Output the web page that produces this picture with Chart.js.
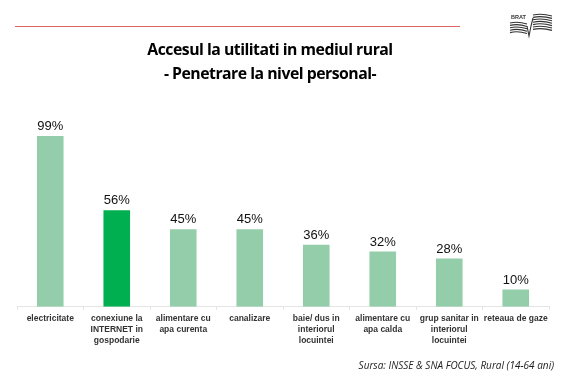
<!DOCTYPE html>
<html><head><meta charset="utf-8">
<script src="https://cdn.jsdelivr.net/npm/chart.js@4"></script>
<style>
html,body{margin:0;padding:0;background:#fff;}
#wrap{position:relative;width:570px;height:376px;overflow:hidden;}
#c{position:absolute;left:0;top:0;}
.title{position:absolute;left:0;width:540px;text-align:center;font-family:"Open Sans",sans-serif;font-weight:700;font-size:15.8px;color:#000;letter-spacing:-0.5px;}
#src{position:absolute;right:16px;top:358px;font-family:"Open Sans",sans-serif;font-style:italic;font-size:10px;color:#222;}
#line{position:absolute;left:15px;top:26px;width:445px;height:1px;background:#e06666;}
</style></head>
<body><div id="wrap">
<canvas id="c" width="570" height="376"></canvas>
<div id="line"></div>
<div class="title" style="top:38px">Accesul la utilitati in mediul rural</div>
<div class="title" style="top:62px">- Penetrare la nivel personal-</div>
<div id="src">Sursa: INSSE &amp; SNA FOCUS, Rural (14-64 ani)</div>
</div>
<script>
const categories = [
  "electricitate",
  ["conexiune la","INTERNET in","gospodarie"],
  ["alimentare cu","apa curenta"],
  "canalizare",
  ["baie/ dus in","interiorul","locuintei"],
  ["alimentare cu","apa calda"],
  ["grup sanitar in","interiorul","locuintei"],
  "reteaua de gaze"
];
const values = [99, 56, 45, 45, 36, 32, 28, 10];
const highlightIndex = 1;
const lightGreen = "#93cdaa";
const darkGreen = "#00b050";

const labelPlugin = {
  id: "valueLabels",
  afterDatasetsDraw(chart) {
    const ctx = chart.ctx;
    const meta = chart.getDatasetMeta(0);
    ctx.save();
    ctx.font = "13px 'Liberation Sans', Arial, sans-serif";
    ctx.fillStyle = "#111";
    ctx.textAlign = "center";
    ctx.textBaseline = "bottom";
    meta.data.forEach((bar, i) => {
      ctx.fillText(values[i] + "%", bar.x, bar.y - 3);
    });
    ctx.restore();
  }
};
const logoPlugin = {
  id: "logo",
  afterDraw(chart) {
    const ctx = chart.ctx;
    ctx.save();
    ctx.fillStyle = "#333";
    ctx.font = "bold 5.5px 'Liberation Sans', Arial, sans-serif";
    ctx.fillText("BRAT", 511, 19);
    ctx.strokeStyle = "#333";
    ctx.lineWidth = 1.1;
    for (let k = 0; k < 5; k++) {
      const y = 23 + k * 2.4;
      ctx.beginPath();
      ctx.moveTo(510, y);
      ctx.quadraticCurveTo(518, y - 2, 527, y + 1);
      ctx.stroke();
    }
    for (let k = 0; k < 7; k++) {
      const y2 = 15 + k * 2.4;
      ctx.beginPath();
      ctx.moveTo(533, y2);
      ctx.quadraticCurveTo(542, y2 - 2, 552, y2 + 1);
      ctx.stroke();
    }
    ctx.beginPath();
    ctx.moveTo(527, 26); ctx.lineTo(529, 36); ctx.lineTo(531, 26); ctx.lineTo(533, 18);
    ctx.stroke();
    ctx.restore();
  }
};

new Chart(document.getElementById("c"), {
  type: "bar",
  data: {
    labels: categories,
    datasets: [{
      data: values,
      backgroundColor: values.map((v, i) => i === highlightIndex ? darkGreen : lightGreen),
      barPercentage: 0.8,
      categoryPercentage: 0.5
    }]
  },
  options: {
    responsive: false,
    animation: false,
    events: [],
    layout: { padding: { left: 17, right: 21, top: 110, bottom: 27 } },
    plugins: { legend: { display: false }, tooltip: { enabled: false }, title: { display: false } },
    scales: {
      y: { display: false, min: 0, max: 114 },
      x: {
        grid: { display: true, offset: true, drawOnChartArea: false, tickLength: 3, color: "#e4e4e4" },
        border: { color: "#e4e4e4" },
        ticks: {
          color: "#333",
          font: { family: "'Liberation Sans', Arial, sans-serif", size: 8.5, weight: "bold", lineHeight: 1.3 },
          maxRotation: 0, minRotation: 0, autoSkip: false, padding: 3
        }
      }
    }
  },
  plugins: [labelPlugin, logoPlugin]
});
</script>
</body></html>
